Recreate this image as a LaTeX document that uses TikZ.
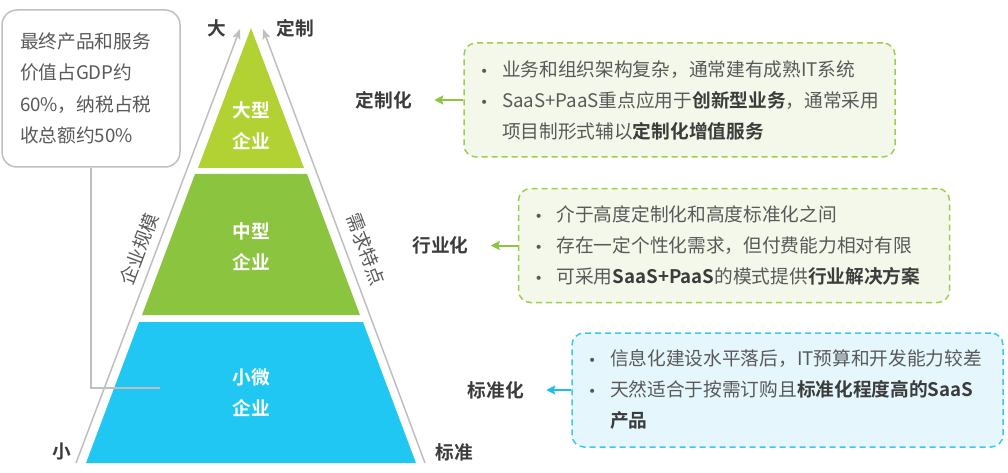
\documentclass[tikz,border=0pt]{standalone}
\usepackage{fontspec}
\setmainfont{Noto Sans CJK SC}[BoldFont={Noto Sans CJK SC Bold}]
\newfontfamily\symfont{DejaVu Sans}
\usetikzlibrary{arrows.meta,positioning}
\definecolor{limegreen}{RGB}{178,210,52}
\definecolor{midgreen}{RGB}{139,196,63}
\definecolor{skyblue}{RGB}{31,199,242}
\definecolor{linegray}{RGB}{191,191,191}
\definecolor{txtgray}{RGB}{89,89,89}
\definecolor{txtdark}{RGB}{60,60,60}
\definecolor{boxgreen}{RGB}{157,206,78}
\definecolor{fillgreen}{RGB}{243,248,234}
\definecolor{arrgreen}{RGB}{140,198,63}
\definecolor{boxblue}{RGB}{60,199,239}
\definecolor{fillblue}{RGB}{229,247,253}
\definecolor{arrblue}{RGB}{31,189,234}
\newcommand{\bodyfont}{\fontsize{18.7}{31}\selectfont}
\newcommand{\bul}{\makebox[24pt][l]{\hspace*{2pt}{\symfont\fontsize{14}{14}\selectfont •}}}
\newcommand{\ind}{\hspace*{24pt}}
\newcommand{\hl}[1]{\textbf{\color{txtdark}#1}}

\begin{document}
\begin{tikzpicture}[x=1pt,y=-1pt,
    layer/.style={text=white,font=\bodyfont\bfseries,align=center,inner sep=0pt},
    axlbl/.style={text=txtdark,font=\bodyfont\bfseries,inner sep=0pt},
    sidelbl/.style={text=txtgray,font=\bodyfont,inner sep=0pt},
    note/.style={draw=linegray,line width=1.5pt,rounded corners=15pt,fill=white,minimum width=178pt,minimum height=157pt,text width=142pt,inner xsep=18pt,align=left,text=txtgray,font=\fontsize{18.7}{31.5}\selectfont},
    textbox/.style={dashed,dash pattern=on 6pt off 4pt,line width=1.5pt,rounded corners=12pt,minimum width=431pt,minimum height=114pt,text width=403pt,inner xsep=14pt,align=left,text=txtgray,font=\bodyfont},
    gbox/.style={textbox,draw=boxgreen,fill=fillgreen},
    bbox/.style={textbox,draw=boxblue,fill=fillblue},
    axis/.style={draw=linegray,line width=1.5pt,-{Stealth[length=10pt,width=8pt,inset=2pt]}},
    link/.style={draw=linegray,line width=1.5pt},
    garrow/.style={draw=arrgreen,line width=2pt,shorten >=22pt,-{Stealth[length=9pt,width=9pt,inset=1.5pt]}},
    barrow/.style={draw=arrblue,line width=2pt,shorten >=22pt,-{Stealth[length=9pt,width=9pt,inset=1.5pt]}}]
  \useasboundingbox (0,0) rectangle (1008,473);

  \coordinate (apex) at (251,28);
  \fill[limegreen] (apex) -- (304,168) -- (198,168) -- cycle;
  \fill[midgreen] (195,174) -- (307,174) -- (360,315) -- (142,315) -- cycle;
  \fill[skyblue] (139,322) -- (363,322) -- (416,463) -- (86,463) -- cycle;

  \node[layer] (big) at (251,126) {大型\\企业};
  \node[layer] (mid) at (251,247) {中型\\企业};
  \node[layer] (small) at (251,393) {小微\\企业};

  \coordinate (lb) at (76,463);
  \coordinate (lt) at (240,29);
  \coordinate (rb) at (425,463);
  \coordinate (rt) at (263,29);
  \draw[axis] (lb) -- (lt);
  \draw[axis] (rb) -- (rt);

  \node[axlbl] (da) at (217,28) {大};
  \node[axlbl] (dingzhi) at (295,28) {定制};
  \node[axlbl] (xiao) at (62,452) {小};
  \node[axlbl] (biaozhun) at (454,452) {标准};
  \node[sidelbl,rotate=69.3] (scale) at (139,249) {企业规模};
  \node[sidelbl,rotate=-69.3] (demand) at (366,249) {需求特点};

  \node[note] (gdp) at (91,88.5) {最终产品和服务\\价值占GDP约\\60\%，纳税占税\\收总额约50\%};
  \coordinate (gdpend) at (160,388);
  \draw[link] (gdp.south) |- (gdpend);

  \node[gbox] (cust) at (679.5,100) {\bul 业务和组织架构复杂，通常建有成熟IT系统\\
    \bul SaaS+PaaS重点应用于\hl{创新型业务}，通常采用\\
    \ind 项目制形式辅以\hl{定制化增值服务}};
  \node[gbox] (ind) at (734,245.5) {\bul 介于高度定制化和高度标准化之间\\
    \bul 存在一定个性化需求，但付费能力相对有限\\
    \bul 可采用\hl{SaaS+PaaS}的模式提供\hl{行业解决方案}};
  \node[bbox] (std) at (787.5,390) {\bul 信息化建设水平落后，IT预算和开发能力较差\\
    \bul 天然适合于按需订购且\hl{标准化程度高的SaaS}\\
    \ind \hl{产品}};

  \node[axlbl,left=51pt of cust] (custlbl) {定制化};
  \node[axlbl,left=49pt of ind] (indlbl) {行业化};
  \node[axlbl,left=47pt of std] (stdlbl) {标准化};
  \draw[garrow] (cust.west) -- (custlbl.east);
  \draw[garrow] (ind.west) -- (indlbl.east);
  \draw[barrow] (std.west) -- (stdlbl.east);
\end{tikzpicture}
\end{document}
